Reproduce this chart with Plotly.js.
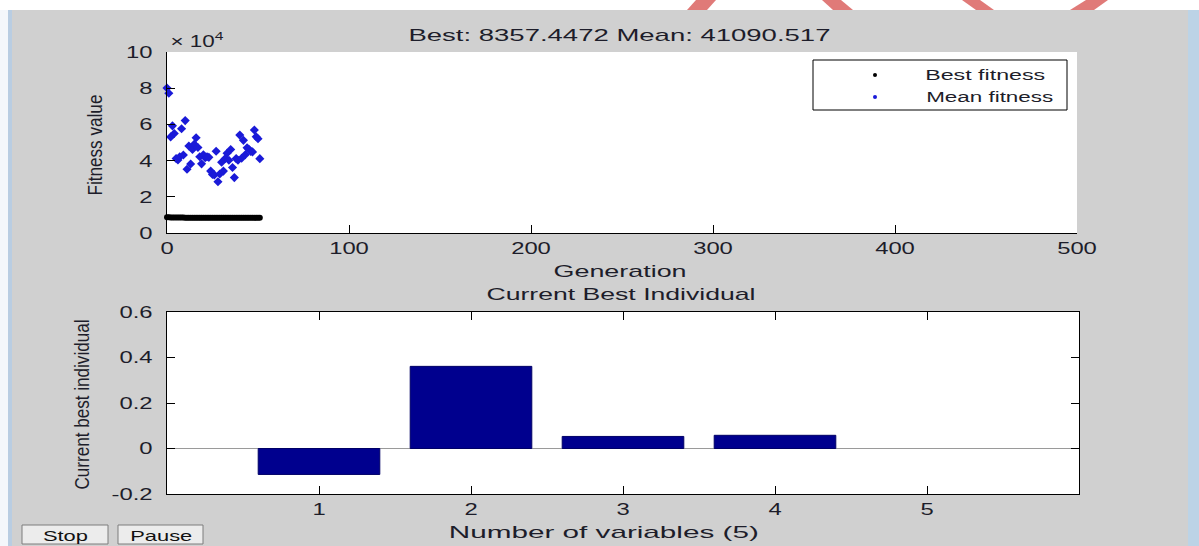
<!DOCTYPE html>
<html>
<head>
<meta charset="utf-8">
<script src="https://cdn.plot.ly/plotly-3.0.1.min.js"></script>
<style>
  html, body { margin: 0; padding: 0; background: #d0d0d0; }
  #chart { width: 1199px; height: 546px; }
</style>
</head>
<body>
<div id="chart"></div>
<script>
// Genetic algorithm progress: fitness per generation and the current best individual.
const generations = [0, 1, 2, 3, 4, 5, 6, 7, 8, 9, 10, 11, 12, 13, 14, 15, 16, 17, 18, 19,
  20, 21, 22, 23, 24, 25, 26, 27, 28, 29, 30, 31, 32, 33, 34, 35, 36, 37, 38, 39,
  40, 41, 42, 43, 44, 45, 46, 47, 48, 49, 50, 51];

const bestFitness = [8712.3, 8712.3, 8630.8, 8630.8, 8544.1, 8544.1, 8544.1, 8497.6, 8497.6, 8497.6,
  8451.9, 8451.9, 8451.9, 8451.9, 8420.2, 8420.2, 8420.2, 8420.2, 8402.7, 8402.7,
  8402.7, 8402.7, 8388.5, 8388.5, 8388.5, 8388.5, 8388.5, 8375.1, 8375.1, 8375.1,
  8375.1, 8375.1, 8366.8, 8366.8, 8366.8, 8366.8, 8366.8, 8366.8, 8360.2, 8360.2,
  8360.2, 8360.2, 8360.2, 8360.2, 8357.4472, 8357.4472, 8357.4472, 8357.4472, 8357.4472, 8357.4472,
  8357.4472, 8357.4472];

const meanFitness = [80100, 77200, 53100, 59200, 55000, 41200, 40300, 42100, 57600, 43100,
  62100, 35200, 48100, 38100, 46200, 49100, 52600, 47200, 42100, 38200,
  43200, 41600, 42100, 41800, 34200, 32300, 32100, 45200, 28300, 32600,
  39100, 34200, 41200, 44100, 40200, 46100, 36200, 30600, 41100, 40200,
  54100, 41300, 51200, 43200, 47100, 46200, 45100, 44800, 56900, 53200,
  52100, 41090.517];

const variableIndex = [1, 2, 3, 4, 5];
const bestIndividual = [-0.114, 0.361, 0.053, 0.058, 0.0];
const variableTicks = ['1', '2', '3', '4', '5'];

const generationTicks = [0, 100, 200, 300, 400, 500];
const fitnessTickValues = [0, 20000, 40000, 60000, 80000, 100000];
const fitnessTickText = ['0', '2', '4', '6', '8', '10'];
const individualTickValues = [-0.2, 0, 0.2, 0.4, 0.6];
const individualTickText = ['-0.2', '0', '0.2', '0.4', '0.6'];

const W = 1199, H = 546;
const px = x => x / W;
const py = y => 1 - y / H;

const lastBest = bestFitness[bestFitness.length - 1];
const lastMean = meanFitness[meanFitness.length - 1];
const titleText = 'Best: ' + lastBest + ' Mean: ' + lastMean;

const textColor = '#1d1d2a';
const sideFont = { family: 'Liberation Sans, Arial, sans-serif', size: 20, color: textColor };

// The window's font is drawn wide: each label is set to a fixed run length (px).
const labelRunLength = {};
labelRunLength[titleText] = 422;
labelRunLength['\u00d7 104'] = 63;
labelRunLength['Generation'] = 133;
labelRunLength['Current Best Individual'] = 269;
labelRunLength['Number of variables (5)'] = 310;
labelRunLength['Best fitness'] = 120;
labelRunLength['Mean fitness'] = 127;
labelRunLength['Fitness value'] = 101;
labelRunLength['Current best individual'] = 170;
labelRunLength['Stop'] = 45;
labelRunLength['Pause'] = 62;
const tickStretch = 1.4;

const traces = [
  {
    x: generations, y: bestFitness, type: 'scatter', mode: 'markers',
    name: 'Best fitness', xaxis: 'x', yaxis: 'y', cliponaxis: false,
    marker: { symbol: 'circle', size: 6, color: '#000000' }
  },
  {
    x: generations, y: meanFitness, type: 'scatter', mode: 'markers',
    name: 'Mean fitness', xaxis: 'x', yaxis: 'y', cliponaxis: false,
    marker: { symbol: 'diamond', size: 7, color: '#1a1ad8' }
  },
  {
    x: variableIndex, y: bestIndividual, type: 'bar', width: 0.8,
    xaxis: 'x2', yaxis: 'y2',
    marker: { color: '#00008e', line: { color: '#000066', width: [1, 1, 1, 1, 0] } }
  }
];

function parallelogram(pts) {
  return 'M ' + pts.map(p => px(p[0]) + ',' + py(p[1])).join(' L ') + ' Z';
}

const strokeColor = '#e07a78';
const shapes = [
  // white strip along the top edge and the window edges
  { type: 'rect', xref: 'paper', yref: 'paper', x0: 0, x1: 1, y0: py(10), y1: 1,
    fillcolor: '#ffffff', line: { width: 0 }, layer: 'below' },
  { type: 'rect', xref: 'paper', yref: 'paper', x0: 0, x1: px(8), y0: 0, y1: py(10),
    fillcolor: '#f4f7fb', line: { width: 0 }, layer: 'below' },
  { type: 'rect', xref: 'paper', yref: 'paper', x0: px(8), x1: px(12), y0: 0, y1: py(10),
    fillcolor: '#b9cde2', line: { width: 0 }, layer: 'below' },
  { type: 'rect', xref: 'paper', yref: 'paper', x0: px(1188), x1: 1, y0: 0, y1: py(10),
    fillcolor: '#bcd3e6', line: { width: 0 }, layer: 'below' },
  // red strokes in the top strip
  { type: 'path', xref: 'paper', yref: 'paper', layer: 'below', fillcolor: strokeColor, line: { width: 0 },
    path: parallelogram([[687, 10], [707, 10], [716, 0], [696, 0]]) },
  { type: 'path', xref: 'paper', yref: 'paper', layer: 'below', fillcolor: strokeColor, line: { width: 0 },
    path: parallelogram([[822, 0], [841, 0], [853, 10], [833, 10]]) },
  { type: 'path', xref: 'paper', yref: 'paper', layer: 'below', fillcolor: strokeColor, line: { width: 0 },
    path: parallelogram([[962, 0], [980, 0], [994, 10], [976, 10]]) },
  { type: 'path', xref: 'paper', yref: 'paper', layer: 'below', fillcolor: strokeColor, line: { width: 0 },
    path: parallelogram([[1070, 10], [1094, 10], [1108, 0], [1086, 0]]) },
  // legend box
  { type: 'rect', xref: 'paper', yref: 'paper', x0: px(813), x1: px(1067), y0: py(110), y1: py(60),
    fillcolor: '#ffffff', line: { color: '#000000', width: 1 }, layer: 'above' },
  { type: 'circle', xref: 'paper', yref: 'paper', x0: px(873), x1: px(877), y0: py(77), y1: py(73),
    fillcolor: '#000000', line: { width: 0 }, layer: 'above' },
  { type: 'circle', xref: 'paper', yref: 'paper', x0: px(873), x1: px(877), y0: py(99), y1: py(95),
    fillcolor: '#1a1ad8', line: { width: 0 }, layer: 'above' },
  // Stop / Pause buttons
  { type: 'rect', xref: 'paper', yref: 'paper', x0: px(22), x1: px(108), y0: py(544), y1: py(525),
    fillcolor: '#ececec', line: { color: '#7c7c7c', width: 1 } },
  { type: 'rect', xref: 'paper', yref: 'paper', x0: px(118), x1: px(203), y0: py(544), y1: py(525),
    fillcolor: '#ececec', line: { color: '#7c7c7c', width: 1 } }
];

const annotations = [
  { text: titleText, x: px(619), y: py(35), font: { size: 17 } },
  { text: '\u00d7 10<sup>4</sup>', x: px(197), y: py(40), font: { size: 16 } },
  { text: 'Generation', x: px(620), y: py(271) },
  { text: 'Current Best Individual', x: px(621), y: py(294) },
  { text: 'Number of variables (5)', x: px(604), y: py(532) },
  { text: 'Fitness value', x: px(95), y: py(145), textangle: -90, font: sideFont },
  { text: 'Current best individual', x: px(82), y: py(405), textangle: -90, font: sideFont },
  { text: 'Best fitness', x: px(985), y: py(75), font: { size: 14 } },
  { text: 'Mean fitness', x: px(989), y: py(97), font: { size: 14 } },
  { text: 'Stop', x: px(65), y: py(535), font: { size: 15, color: '#111111' } },
  { text: 'Pause', x: px(161), y: py(535), font: { size: 15, color: '#111111' } }
].map(a => Object.assign({ xref: 'paper', yref: 'paper', showarrow: false, xanchor: 'center', yanchor: 'middle' }, a));

const axisBase = {
  ticks: 'inside', ticklen: 8, tickcolor: '#000000', tickwidth: 1,
  showline: true, linecolor: '#000000', linewidth: 1,
  showgrid: false, zeroline: false, fixedrange: true
};

const layout = {
  width: W, height: H,
  margin: { l: 0, r: 0, t: 0, b: 0 },
  paper_bgcolor: '#d0d0d0', plot_bgcolor: '#ffffff',
  showlegend: false,
  font: { family: 'Liberation Sans, Arial, sans-serif', size: 17, color: textColor },
  xaxis: Object.assign({}, axisBase, {
    domain: [px(167), px(1077)], range: [0, 500], anchor: 'y',
    tickvals: generationTicks, ticklabelstandoff: 0
  }),
  yaxis: Object.assign({}, axisBase, {
    domain: [py(233), py(52)], range: [0, 100000], anchor: 'x',
    tickvals: fitnessTickValues, ticktext: fitnessTickText, ticklabelstandoff: 10
  }),
  xaxis2: Object.assign({}, axisBase, {
    domain: [px(167), px(1079)], range: [0, 6], anchor: 'y2', mirror: 'ticks',
    tickvals: variableIndex, ticktext: variableTicks, ticklabelstandoff: 0
  }),
  yaxis2: Object.assign({}, axisBase, {
    domain: [py(494), py(312)], range: [-0.2, 0.6], anchor: 'x2', mirror: 'ticks',
    tickvals: individualTickValues, ticktext: individualTickText, ticklabelstandoff: 10,
    zeroline: true, zerolinecolor: '#9a9a9a', zerolinewidth: 1.5
  }),
  shapes: shapes,
  annotations: annotations,
  bargap: 0.2
};

Plotly.newPlot('chart', traces, layout, { displayModeBar: false, staticPlot: true }).then(gd => {
  // widen the drawn text runs to the window font's proportions
  gd.querySelectorAll('text').forEach(el => {
    const natural = el.getComputedTextLength();
    if (!natural) return;
    const content = el.textContent;
    const target = (content in labelRunLength) ? labelRunLength[content] : natural * tickStretch;
    el.setAttribute('textLength', target);
    el.setAttribute('lengthAdjust', 'spacingAndGlyphs');
  });
});
</script>
</body>
</html>
